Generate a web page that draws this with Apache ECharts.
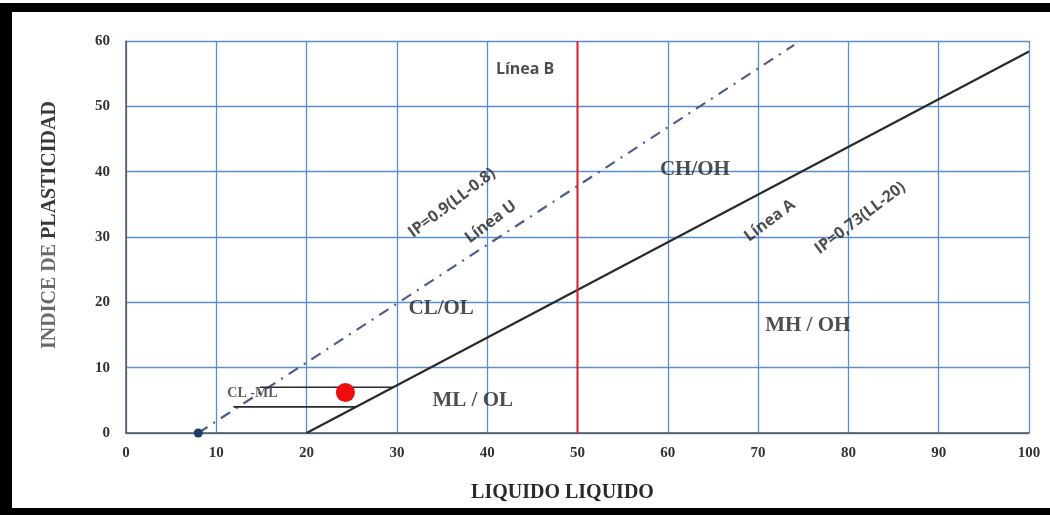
<!DOCTYPE html>
<html>
<head>
<meta charset="utf-8">
<script src="https://cdn.jsdelivr.net/npm/echarts@6/dist/echarts.min.js"></script>
<style>
html,body{margin:0;padding:0;background:#fff;}
#wrap{position:relative;width:1050px;height:515px;overflow:hidden;}
#chart{position:absolute;left:0;top:0;width:1050px;height:515px;}
.bar{position:absolute;background:#000;}
</style>
</head>
<body>
<div id="wrap">
<div id="chart"></div>
<div class="bar" style="left:0;top:3px;width:1050px;height:9px;"></div>
<div class="bar" style="left:0;top:3px;width:12px;height:512px;"></div>
<div class="bar" style="left:0;top:508px;width:1050px;height:7px;"></div>
</div>
<script>
// ---- data ----
const xTickValues = [0,10,20,30,40,50,60,70,80,90,100];
const yTickValues = [0,10,20,30,40,50,60];
const lineA = [[20,0],[100,58.4]];          // IP = 0.73(LL-20)
const lineU = [[8,0],[74,59.4]];            // IP = 0.9(LL-8)
const lineB = [[50,0],[50,60]];             // LL = 50
const clmlUpper = [[14.8,7],[29.6,7]];
const clmlLower = [[11.9,4],[25.5,4]];
const samplePoint = [[24.3,6.2]];
const originPoint = [[8,0]];
const zoneNames = ['CH/OH','CL/OL','MH / OH','ML / OL'];
const zonePos = [[63,40.3],[34.9,19.1],[75.5,16.5],[38.4,5]];
const lineNames = ['IP=0.9(LL-0.8)','Línea U','Línea A','IP=0,73(LL-20)'];
const lineNamePos = [[36.1,35.2],[40.4,32.3],[71.3,32.5],[81.3,32.9]];
const lineBName = 'Línea B';
const lineBNamePos = [44.2,55.6];
const clmlName = 'CL -ML';
const clmlNamePos = [14,6.1];

const serif = '"Liberation Serif", "DejaVu Serif", serif';
const sans = '"Open Sans", Lato, "Liberation Sans", sans-serif';
const gridBlue = '#5a8fcc';

const chart = echarts.init(document.getElementById('chart'));
const option = {
  animation: false,
  backgroundColor: '#fff',
  grid: {left:126, right:21, top:41, bottom:82, containLabel:false},
  xAxis: {
    type:'value', min:0, max:100, interval:10,
    name:'LIQUIDO LIQUIDO', nameLocation:'middle', nameGap:50,
    nameTextStyle:{fontFamily:serif, fontWeight:'bold', fontSize:20, color:'#2a2a2a', padding:[0,30,0,0]},
    axisLine:{show:true, onZero:false, lineStyle:{color:'#555', width:1.5}},
    axisTick:{show:false},
    axisLabel:{fontFamily:serif, fontWeight:'bold', fontSize:15, color:'#333', margin:13},
    splitLine:{show:true, lineStyle:{color:gridBlue, width:1.3}}
  },
  yAxis: {
    type:'value', min:0, max:60, interval:10,
    name:'{a|INDICE DE }{b|PLASTICIDAD}', nameLocation:'middle', nameGap:66, nameRotate:90,
    nameTextStyle:{fontFamily:serif, fontWeight:'bold', fontSize:20, padding:[0,0,0,24],
      rich:{a:{fontFamily:serif, fontWeight:'bold', fontSize:20, color:'#6a6a6a'},
            b:{fontFamily:serif, fontWeight:'bold', fontSize:20, color:'#3a3a3a'}}},
    axisLine:{show:true, onZero:false, lineStyle:{color:'#555', width:1.5}},
    axisTick:{show:false},
    axisLabel:{fontFamily:serif, fontWeight:'bold', fontSize:15, color:'#333', margin:16},
    splitLine:{show:true, lineStyle:{color:gridBlue, width:1.3}}
  },
  series: [
    {type:'line', data:lineA, symbol:'none', lineStyle:{color:'#2a2a2a', width:2.2}, z:5},
    {type:'line', data:lineU, symbol:'none', lineStyle:{color:'#4f5c8c', width:2.2, type:[11,7,2,7]}, z:5},
    {type:'line', data:lineB, symbol:'none', lineStyle:{color:'#e8202a', width:2}, z:6},
    {type:'line', data:clmlUpper, symbol:'none', lineStyle:{color:'#2a2a2a', width:1.6}, z:5},
    {type:'line', data:clmlLower, symbol:'none', lineStyle:{color:'#2a2a2a', width:1.6}, z:5},
    {type:'scatter', data:samplePoint, symbol:'circle', symbolSize:19, itemStyle:{color:'#ee0d0d', opacity:1}, z:10},
    {type:'scatter', data:originPoint, symbol:'circle', symbolSize:9, itemStyle:{color:'#1f3a6a', opacity:1}, z:10},
    {type:'scatter', symbolSize:0, z:12, silent:true,
      data: zoneNames.map((n,i)=>({name:n, value:zonePos[i]})),
      label:{show:true, position:'inside', formatter:'{b}', fontFamily:serif, fontWeight:'bold', fontSize:21, color:'#222'}},
    {type:'scatter', symbolSize:0, z:12, silent:true,
      data: lineNames.map((n,i)=>({name:n, value:lineNamePos[i]})),
      label:{show:true, position:'inside', rotate:37, formatter:'{b}', fontFamily:sans, fontWeight:'bold', fontSize:16, color:'#222'}},
    {type:'scatter', symbolSize:0, z:12, silent:true,
      data: [{name:lineBName, value:lineBNamePos}],
      label:{show:true, position:'inside', formatter:'{b}', fontFamily:sans, fontWeight:'bold', fontSize:16, color:'#222'}},
    {type:'scatter', symbolSize:0, z:12, silent:true,
      data: [{name:clmlName, value:clmlNamePos}],
      label:{show:true, position:'inside', formatter:'{b}', fontFamily:serif, fontWeight:'bold', fontSize:14, color:'#333'}}
  ]
};
chart.setOption(option);
</script>
</body>
</html>
